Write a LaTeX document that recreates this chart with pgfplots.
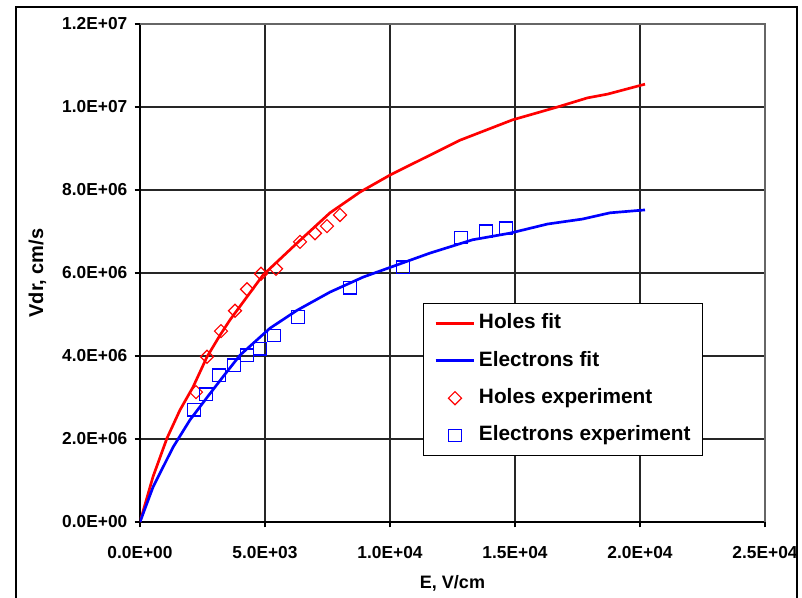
\documentclass[border=0pt]{standalone}
\usepackage{fontspec}
\setmainfont{Liberation Sans}
\usepackage{pgfplots}
\pgfplotsset{compat=1.18}

\definecolor{hole}{RGB}{255,0,0}
\definecolor{elec}{RGB}{0,0,255}

\pgfplotsset{
    lineleg/.style={legend image code/.code={\draw[##1] (0pt,0pt) -- (29pt,0pt);}},
    markleg/.style={legend image code/.code={\draw[##1] plot coordinates {(14.5pt,0pt)};}},
}

\begin{document}
\begin{tikzpicture}
\useasboundingbox (-105pt,-56.25pt) rectangle (496.5pt,391.5pt);
\begin{axis}[
    name=ax,
    width=468.75pt, height=373.5pt,
    scale only axis,
    xmin=0, xmax=25000,
    ymin=0, ymax=1.2e7,
    xtick={0,5000,10000,15000,20000,25000},
    ytick={0,2e6,4e6,6e6,8e6,1e7,1.2e7},
    xticklabels={0.0E+00,5.0E+03,1.0E+04,1.5E+04,2.0E+04,2.5E+04},
    yticklabels={0.0E+00,2.0E+06,4.0E+06,6.0E+06,8.0E+06,1.0E+07,1.2E+07},
    scaled ticks=false,
    axis lines=left,
    axis line style={-, black, line width=0.8pt},
    tick align=outside,
    major tick length=4pt,
    tick style={black, line width=0.8pt},
    grid=major,
    grid style={black!85, line width=0.8pt},
    ticklabel style={font=\fontsize{13}{15}\selectfont\bfseries},
    yticklabel style={xshift=-2pt},
    xticklabel style={yshift=-10.5pt},
    xlabel={E, V/cm},
    ylabel={Vdr, cm/s},
    xlabel style={font=\fontsize{13.5}{16}\selectfont\bfseries, at={(axis description cs:0.5,0)}, anchor=center, yshift=-46pt},
    ylabel style={font=\fontsize{15}{18}\selectfont\bfseries, at={(axis description cs:0,0.5)}, anchor=center, yshift=77pt},
    legend style={
        at={(0.453,0.1325)}, anchor=south west,
        draw=black, line width=0.8pt, fill=white,
        font=\fontsize{15.6}{18}\selectfont\bfseries,
        inner xsep=8pt, inner ysep=7pt,
        row sep=12pt, column sep=1.5pt,
        cells={anchor=west},
        nodes={inner sep=1pt, text height=11pt, text depth=3pt},
    },
    legend cell align=left,
]
% fits
\addplot[hole, line width=2pt, sharp plot, lineleg]
    coordinates {(0,0) (520,1.09e6) (1080,2.02e6) (1600,2.7e6) (2120,3.25e6)
    (2680,3.98e6) (3200,4.5e6) (3600,4.87e6) (4920,5.95e6) (6280,6.72e6) (7600,7.45e6)
    (8800,7.95e6) (10000,8.36e6) (12800,9.2e6) (14900,9.69e6) (16700,10.0e6)
    (17900,10.22e6) (18700,10.31e6) (20200,10.55e6)};
\addplot[elec, line width=2pt, sharp plot, lineleg]
    coordinates {(0,0) (520,0.84e6) (1320,1.8e6) (2000,2.46e6) (2680,3.0e6)
    (3320,3.5e6) (4000,4.02e6) (5200,4.67e6) (6280,5.1e6) (7600,5.54e6) (8920,5.9e6)
    (11600,6.48e6) (13300,6.8e6) (14800,6.96e6) (16300,7.18e6) (17700,7.3e6)
    (18800,7.45e6) (20200,7.52e6)};
% experiment
\addplot[only marks, mark=square, mark size=3.45pt,
    mark options={hole, line width=0.9pt, rotate=45, fill=none}, markleg]
    coordinates {(2240,3.13e6) (2680,3.98e6) (3240,4.6e6) (3800,5.09e6)
    (4280,5.61e6) (4840,5.98e6) (5440,6.1e6) (6400,6.75e6) (7000,6.96e6)
    (7480,7.13e6) (8000,7.4e6)};
\addplot[only marks, mark=square, mark size=4.6pt,
    mark options={elec, line width=0.9pt, fill=none}, markleg]
    coordinates {(2160,2.7e6) (2640,3.08e6) (3160,3.54e6) (3760,3.78e6)
    (4280,4.02e6) (4800,4.17e6) (5360,4.5e6) (6320,4.94e6) (8400,5.64e6)
    (10520,6.14e6) (12840,6.86e6) (13840,7.01e6) (14640,7.08e6)};
\legend{Holes fit, Electrons fit, Holes experiment, Electrons experiment}
\end{axis}
\draw[black!60, line width=0.8pt] (ax.north west) -- (ax.north east) -- (ax.south east);
\draw[black, line width=0.8pt] (-93pt,-60pt) -- (-93pt,386.25pt) -- (492.75pt,386.25pt) -- (492.75pt,-60pt);
\end{tikzpicture}
\end{document}
